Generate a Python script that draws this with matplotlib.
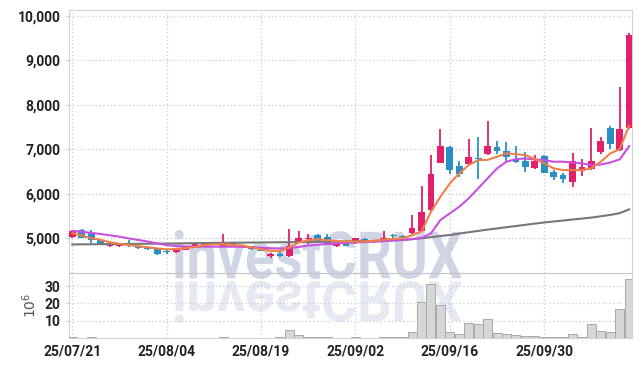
#!/usr/bin/env python3
# Candlestick chart with moving averages and volume panel

import numpy as np
import matplotlib
matplotlib.use('Agg')
import matplotlib.pyplot as plt
from matplotlib.textpath import TextPath
from matplotlib.patches import PathPatch
from matplotlib.font_manager import FontProperties
from matplotlib.transforms import Affine2D

# ---------- DATA ----------
opens = np.array([5020, 5180, 5110, 4950, 4810, 4810, 4870, 4800, 4800, 4770,
                  4710, 4680, 4730, 4790, 4840, 4890, 4830, 4880, 4810, 4820,
                  4780, 4590, 4640, 4590, 4910, 4980, 5060, 5030, 4820, 4930,
                  4880, 4970, 4910, 4960, 5050, 5040, 5110, 5150, 5620, 6700,
                  7060, 6620, 6670, 6810, 6890, 7060, 6960, 6770, 6730, 6570,
                  6840, 6480, 6420, 6270, 6510, 6550, 6940, 7480, 6980, 7470])
highs = np.array([5180, 5200, 5180, 4960, 4870, 4880, 4950, 4810, 4830, 4780,
                  4720, 4780, 4830, 4870, 4900, 4910, 5080, 4900, 4850, 4830,
                  4790, 4660, 4700, 5200, 5165, 5100, 5080, 5090, 4880, 4940,
                  5000, 4990, 4960, 5165, 5080, 5070, 5520, 6170, 6880, 7450,
                  7080, 6740, 7220, 7270, 7640, 7190, 7170, 7070, 6940, 6870,
                  6860, 6530, 6455, 6920, 6770, 7470, 7280, 7530, 8400, 9620])
lows = np.array([5000, 4990, 4890, 4840, 4800, 4800, 4800, 4760, 4740, 4620,
                 4630, 4670, 4720, 4780, 4830, 4840, 4820, 4830, 4800, 4740,
                 4700, 4560, 4580, 4580, 4880, 4860, 4930, 4840, 4790, 4820,
                 4870, 4910, 4880, 4950, 5000, 5010, 5090, 5140, 5600, 6680,
                 6440, 6365, 6660, 6320, 6880, 6890, 6717, 6690, 6480, 6550,
                 6460, 6310, 6245, 6150, 6400, 6530, 6890, 7000, 6970, 7460])
closes = np.array([5160, 5000, 4960, 4850, 4860, 4870, 4810, 4770, 4760, 4640,
                   4690, 4770, 4800, 4860, 4890, 4850, 4880, 4840, 4835, 4760,
                   4710, 4640, 4590, 4820, 4990, 5010, 4940, 4850, 4870, 4830,
                   4990, 4920, 4950, 5010, 5040, 5030, 5230, 5580, 6440, 7070,
                   6530, 6440, 6820, 6780, 7070, 6970, 6820, 6720, 6600, 6730,
                   6470, 6380, 6330, 6730, 6600, 6730, 7180, 7120, 7450, 9570])
volumes = np.array([0.3, 0.2, 0.3, 0.2, 0.2, 0.1, 0.2, 0.1, 0.1, 0.2,
                    0.2, 0.1, 0.1, 0.1, 0.2, 0.1, 0.5, 0.2, 0.1, 0.2,
                    0.1, 0.2, 0.3, 4.6, 1.7, 0.8, 0.3, 0.3, 0.2, 0.2,
                    0.6, 0.2, 0.2, 0.7, 0.3, 0.3, 3.6, 20.6, 31.0, 19.0,
                    3.6, 2.3, 8.5, 7.9, 10.8, 2.7, 2.3, 1.5, 1.2, 1.0,
                    0.4, 0.4, 0.4, 2.3, 0.4, 8.1, 3.9, 3.5, 16.6, 34.0])
ma_short = [5110, 5055, 4995, 4960, 4905, 4870, 4840, 4815, 4790, 4765,
            4745, 4750, 4770, 4800, 4840, 4860, 4860, 4845, 4830, 4790,
            4745, 4715, 4705, 4790, 4900, 4950, 4970, 4950, 4930, 4920,
            4920, 4925, 4940, 4960, 4980, 4995, 5060, 5150, 5590, 5930,
            6230, 6455, 6643, 6755, 6760, 6830, 6905, 6890, 6868, 6780,
            6680, 6568, 6530, 6530, 6530, 6570, 6718, 6905, 7000, 7530]
ma_mid = [5160, 5140, 5115, 5090, 5060, 5030, 4990, 4955, 4920, 4880,
          4840, 4820, 4810, 4805, 4805, 4805, 4805, 4805, 4800, 4790,
          4780, 4770, 4765, 4770, 4800, 4830, 4850, 4865, 4880, 4890,
          4900, 4910, 4918, 4930, 4945, 4960, 4975, 5000, 5105, 5405,
          5555, 5705, 5893, 6118, 6343, 6568, 6718, 6778, 6790, 6770,
          6755, 6718, 6718, 6700, 6680, 6643, 6655, 6700, 6770, 7070]
ma_long = [4855, 4857, 4859, 4861, 4863, 4865, 4867, 4869, 4871, 4873,
           4875, 4878, 4881, 4884, 4887, 4890, 4892, 4894, 4896, 4898,
           4900, 4902, 4904, 4906, 4908, 4910, 4913, 4916, 4919, 4922,
           4925, 4930, 4935, 4940, 4947, 4955, 4975, 4995, 5020, 5045,
           5068, 5100, 5130, 5160, 5190, 5215, 5243, 5270, 5297, 5324,
           5350, 5372, 5394, 5416, 5438, 5460, 5490, 5520, 5560, 5645]
tick_pos = [0, 10, 20, 30, 40, 50]
tick_labels = ['25/07/21', '25/08/04', '25/08/19', '25/09/02', '25/09/16', '25/09/30']
price_ticks = [5000, 6000, 7000, 8000, 9000, 10000]
vol_ticks = [10, 20, 30]

# ---------- STYLE ----------
RED = '#e3206b'
BLUE = '#2a8fc7'
GRID = '#c5cadb'
SPINE = '#d2d4dc'
TICK_FONT = FontProperties(family=['Roboto', 'DejaVu Sans'], weight='bold', size=10)

W, H = 642, 367
fig = plt.figure(figsize=(W / 100, H / 100), dpi=100)
fig.patch.set_facecolor('white')

# background watermark (upright + mirrored)
bg = fig.add_axes([0, 0, 1, 1], zorder=-1)
bg.set_xlim(0, W)
bg.set_ylim(H, 0)
bg.axis('off')

wm_prop = FontProperties(family=['Roboto', 'DejaVu Sans'], weight='bold')
tp = TextPath((0, 0), 'investCRUX', size=100, prop=wm_prop)
ext = tp.get_extents()
x0, x1 = 175, 462
top, base = 230, 279
sx = (x1 - x0) / ext.width
sy = (base - top) / ext.height
up_tr = Affine2D().translate(-ext.x0, -ext.y0).scale(sx, -sy).translate(x0, base)
bg.add_patch(PathPatch(up_tr.transform_path(tp), facecolor='#cfd5e5', edgecolor='none'))
dn_tr = Affine2D().translate(-ext.x0, -ext.y0).scale(sx, sy * 0.85).translate(x0, base + 2)
bg.add_patch(PathPatch(dn_tr.transform_path(tp), facecolor='#e6e9f1', edgecolor='none'))

L, R = 69 / W, 632 / W
ax = fig.add_axes([L, 1 - 273 / H, R - L, (273 - 10) / H])
axv = fig.add_axes([L, 1 - 338 / H, R - L, (338 - 273) / H], sharex=ax)

x = np.arange(len(closes))
colors = np.where(closes >= opens, RED, BLUE)

# ---------- PRICE PANEL ----------
ax.set_facecolor('none')
ax.vlines(x, lows, highs, color=colors, lw=1.3, zorder=3)
body = np.maximum(np.abs(closes - opens), 18)
ax.bar(x, body, bottom=np.minimum(opens, closes), width=0.72, color=colors, zorder=4)
ax.plot(x, ma_long, color='#777777', lw=1.5, zorder=5)
ax.plot(x, ma_mid, color='#c84fe2', lw=1.5, zorder=5)
ax.plot(x, ma_short, color='#ef8048', lw=1.5, zorder=5)

ax.set_ylim(4212, 10135)
ax.set_xlim(-0.35, 59.3)
ax.set_yticks(price_ticks)
ax.set_yticklabels([f'{v:,}' for v in price_ticks], fontproperties=TICK_FONT, color='#222222')
ax.set_xticks(tick_pos)
ax.tick_params(axis='x', labelbottom=False, length=0)
ax.tick_params(axis='y', length=3, color=SPINE, pad=3)
ax.grid(True, color=GRID, linestyle=(0, (1, 2)), lw=0.9)
for s in ax.spines.values():
    s.set_color(SPINE)
ax.spines['bottom'].set_color('#c4c4c4')

# ---------- VOLUME PANEL ----------
axv.set_facecolor('none')
axv.bar(x, volumes, width=0.95, color='#d6d6d6', edgecolor='#a8a8a8', lw=0.7, zorder=3)
axv.set_ylim(0, 37.6)
axv.set_yticks(vol_ticks)
axv.set_yticklabels([str(v) for v in vol_ticks], fontproperties=TICK_FONT, color='#222222')
axv.set_xticks(tick_pos)
axv.set_xticklabels(tick_labels, fontproperties=TICK_FONT, color='#222222')
axv.tick_params(axis='x', length=0, pad=5)
axv.tick_params(axis='y', length=3, color=SPINE, pad=3)
axv.grid(True, color=GRID, linestyle=(0, (1, 2)), lw=0.9)
for s in axv.spines.values():
    s.set_color(SPINE)
axv.spines['top'].set_visible(False)
axv.set_ylabel('$10^6$', color='#555555', fontsize=10, labelpad=4)

fig.savefig('out.png', dpi=100)
